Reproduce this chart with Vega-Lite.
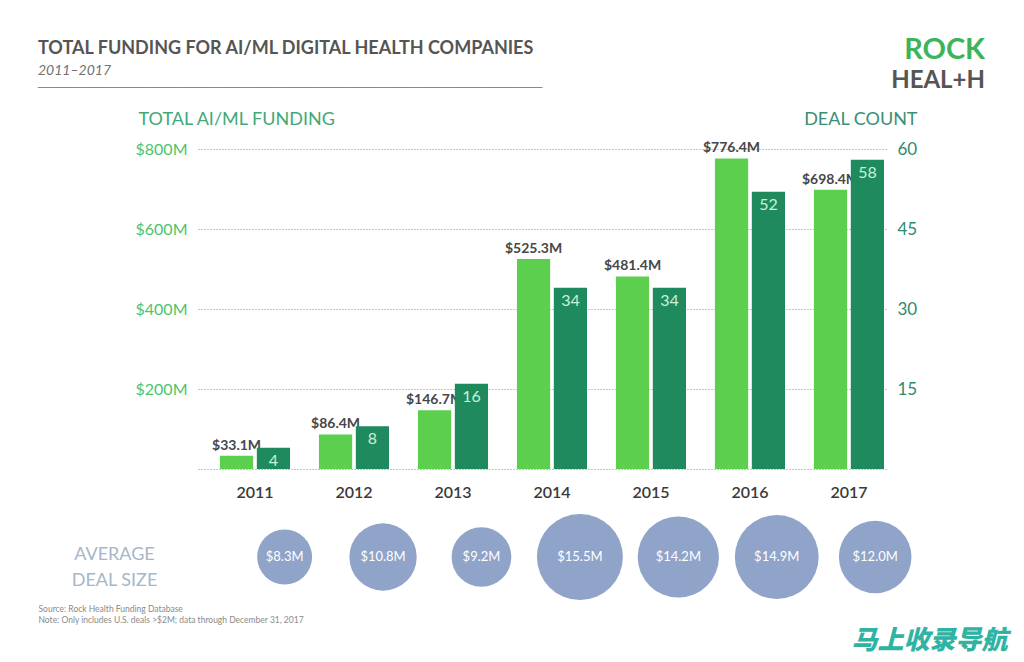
{
  "$schema": "https://vega.github.io/schema/vega-lite/v6.json",
  "background": "white",
  "padding": {"left": 38, "top": 36, "right": 10, "bottom": 6},
  "autosize": {"type": "pad"},
  "datasets": {
    "bars": [
      {"year": "2011", "metric": "Funding", "value": 33.1},
      {"year": "2011", "metric": "Deals", "value": 4},
      {"year": "2012", "metric": "Funding", "value": 86.4},
      {"year": "2012", "metric": "Deals", "value": 8},
      {"year": "2013", "metric": "Funding", "value": 146.7},
      {"year": "2013", "metric": "Deals", "value": 16},
      {"year": "2014", "metric": "Funding", "value": 525.3},
      {"year": "2014", "metric": "Deals", "value": 34},
      {"year": "2015", "metric": "Funding", "value": 481.4},
      {"year": "2015", "metric": "Deals", "value": 34},
      {"year": "2016", "metric": "Funding", "value": 776.4},
      {"year": "2016", "metric": "Deals", "value": 52},
      {"year": "2017", "metric": "Funding", "value": 698.4},
      {"year": "2017", "metric": "Deals", "value": 58}
    ],
    "sizes": [
      {"year": "2011", "avg": 8.3},
      {"year": "2012", "avg": 10.8},
      {"year": "2013", "avg": 9.2},
      {"year": "2014", "avg": 15.5},
      {"year": "2015", "avg": 14.2},
      {"year": "2016", "avg": 14.9},
      {"year": "2017", "avg": 12.0}
    ]
  },
  "title": {
    "text": "TOTAL FUNDING FOR AI/ML DIGITAL HEALTH COMPANIES",
    "subtitle": ["2011–2017", "────────────────────────────────────────────────"],
    "anchor": "start",
    "frame": "bounds",
    "font": "Lato",
    "fontSize": 18,
    "fontWeight": "bold",
    "color": "#555555",
    "subtitleFont": "Lato",
    "subtitleFontSize": 14,
    "subtitleFontStyle": "italic",
    "subtitleColor": "#6f6f6f",
    "subtitlePadding": 6,
    "subtitleLineHeight": 17,
    "offset": 0,
    "dy": 59
  },
  "spacing": 7,
  "vconcat": [
    {
      "data": {"name": "bars"},
      "width": 689,
      "height": 320,
      "title": {
        "text": "ROCK",
        "subtitle": "HEAL+H",
        "anchor": "end",
        "frame": "bounds",
        "dx": 68,
        "offset": 17,
        "font": "Lato",
        "fontSize": 29,
        "fontWeight": "bold",
        "color": "#3db35a",
        "subtitleFont": "Lato",
        "subtitleFontSize": 24,
        "subtitleFontWeight": "bold",
        "subtitleColor": "#555555",
        "subtitlePadding": 4
      },
      "encoding": {
        "x": {
          "field": "year",
          "type": "ordinal",
          "scale": {"paddingInner": 0.292, "paddingOuter": 0.126, "align": 0.88},
          "axis": {
            "title": null,
            "domain": false,
            "ticks": false,
            "labelAngle": 0,
            "labelFont": "Lato",
            "labelFontSize": 16,
            "labelFontWeight": 600,
            "labelColor": "#3a3a3a",
            "labelPadding": 15
          }
        },
        "xOffset": {
          "field": "metric",
          "type": "nominal",
          "scale": {"domain": ["Funding", "Deals"], "paddingInner": 0.1, "paddingOuter": 0}
        }
      },
      "layer": [
        {
          "transform": [
            {"filter": "datum.metric === 'Funding'"},
            {"calculate": "'$' + format(datum.value, '.1f') + 'M'", "as": "label"}
          ],
          "encoding": {
            "y": {
              "field": "value",
              "type": "quantitative",
              "scale": {"domain": [0, 800]},
              "axis": {
                "orient": "left",
                "values": [0, 200, 400, 600, 800],
                "labelExpr": "datum.value == 0 ? '' : '$' + datum.value + 'M'",
                "grid": true,
                "gridDash": [1, 2],
                "gridColor": "#8c8c8c",
                "gridWidth": 1,
                "domain": false,
                "ticks": false,
                "labelFont": "Lato",
                "labelFontSize": 16,
                "labelColor": "#4cc46b",
                "labelPadding": 11,
                "title": "TOTAL AI/ML FUNDING",
                "titleAngle": 0,
                "titleAlign": "left",
                "titleBaseline": "alphabetic",
                "titleX": -60,
                "titleY": -25,
                "titleFont": "Lato",
                "titleFontSize": 18,
                "titleFontWeight": "normal",
                "titleColor": "#43a877"
              }
            }
          },
          "layer": [
            {"mark": {"type": "bar", "color": "#5ccf4f"}},
            {
              "mark": {"type": "text", "baseline": "bottom", "dy": -3, "font": "Lato", "fontSize": 14, "fontWeight": "bold", "color": "#474747"},
              "encoding": {"text": {"field": "label"}}
            }
          ]
        },
        {
          "transform": [{"filter": "datum.metric === 'Deals'"}],
          "encoding": {
            "y": {
              "field": "value",
              "type": "quantitative",
              "scale": {"domain": [0, 60]},
              "axis": {
                "orient": "right",
                "values": [15, 30, 45, 60],
                "grid": false,
                "domain": false,
                "ticks": false,
                "labelFont": "Lato",
                "labelFontSize": 17,
                "labelColor": "#2e8b6c",
                "labelPadding": 10,
                "title": "DEAL COUNT",
                "titleAngle": 0,
                "titleAlign": "right",
                "titleBaseline": "alphabetic",
                "titleX": 30,
                "titleY": -25,
                "titleFont": "Lato",
                "titleFontSize": 18,
                "titleFontWeight": "normal",
                "titleColor": "#3a8f74"
              }
            }
          },
          "layer": [
            {"mark": {"type": "bar", "color": "#1f8a5e"}},
            {
              "mark": {"type": "text", "baseline": "top", "dy": 5, "font": "Lato", "fontSize": 16, "color": "#c9f2d5"},
              "encoding": {"text": {"field": "value", "type": "quantitative"}}
            }
          ]
        }
      ],
      "resolve": {"scale": {"y": "independent"}, "axis": {"y": "independent"}}
    },
    {
      "data": {"name": "sizes"},
      "width": 689,
      "height": 100,
      "title": {
        "text": "马上收录导航",
        "orient": "bottom",
        "anchor": "end",
        "frame": "bounds",
        "dx": 96,
        "offset": 4,
        "font": "Noto Sans CJK SC",
        "fontSize": 26,
        "fontWeight": 900,
        "fontStyle": "italic",
        "color": "#2fb3a3"
      },
      "transform": [{"calculate": "'$' + format(datum.avg, '.1f') + 'M'", "as": "label"}],
      "encoding": {
        "x": {
          "field": "year",
          "type": "ordinal",
          "scale": {"paddingInner": 0.292, "paddingOuter": 0.126, "align": 0.88},
          "axis": {
            "labels": false,
            "ticks": false,
            "domain": false,
            "title": ["Source: Rock Health Funding Database", "Note: Only includes U.S. deals >$2M; data through December 31, 2017"],
            "titleAlign": "left",
            "titleBaseline": "top",
            "titleX": -160,
            "titleY": -3,
            "titleFont": "Lato",
            "titleFontSize": 8.5,
            "titleFontWeight": "normal",
            "titleColor": "#8a8a8a",
            "titleLineHeight": 11
          }
        },
        "y": {
          "datum": "AVERAGE DEAL SIZE",
          "type": "nominal",
          "axis": {
            "labels": false,
            "ticks": false,
            "domain": false,
            "grid": false,
            "title": ["AVERAGE", "DEAL SIZE"],
            "titleAngle": 0,
            "titleAlign": "center",
            "titleBaseline": "top",
            "titleX": -84,
            "titleY": 38,
            "titleFont": "Lato",
            "titleFontSize": 18,
            "titleFontWeight": "normal",
            "titleColor": "#a7b6c9",
            "titleLineHeight": 26
          }
        }
      },
      "layer": [
        {
          "mark": {"type": "circle", "color": "#8fa4c8", "opacity": 1},
          "encoding": {
            "size": {
              "field": "avg",
              "type": "quantitative",
              "scale": {"type": "linear", "zero": false, "domain": [8.3, 15.5], "range": [3019, 7390]},
              "legend": null
            }
          }
        },
        {
          "mark": {"type": "text", "color": "white", "font": "Lato", "fontSize": 13},
          "encoding": {"text": {"field": "label"}}
        }
      ]
    }
  ],
  "config": {
    "view": {"stroke": null},
    "font": "Lato"
  }
}
